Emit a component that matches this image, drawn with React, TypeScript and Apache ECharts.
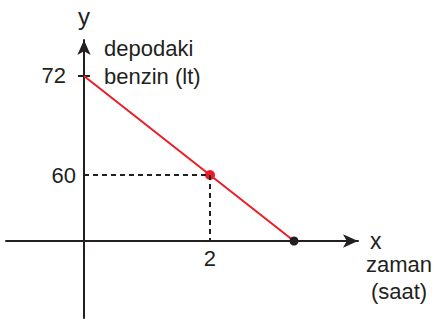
import React, { useEffect, useRef } from "react";
import * as echarts from "echarts";

// Sketch (not to scale): positions are the diagram's grid steps
const lineX = [0, 3, 5];
const lineY = [5, 2, 0];
const xTickValues = [3];
const xTickLabels = ["2"];
const yTickValuesMain = [2];
const yTickLabelsMain = ["60"];
const yTickValuesTop = [5];
const yTickLabelsTop = ["72"];
const yAxisName = "y";
const xAxisName = "x";
const yQuantity = "depodaki\nbenzin (lt)";
const xQuantity = "zaman\n(saat)";

const INK = "#231f20";
const RED = "#ed1c24";
const FONT = "Liberation Sans, Arial, sans-serif";

export default function App() {
  const ref = useRef<HTMLDivElement>(null);
  useEffect(() => {
    document.body.style.margin = "0";
    const chart = echarts.init(ref.current!, undefined, { renderer: "svg" });
    const labelFor = (vals: number[], labs: string[]) => (v: number) => {
      const i = vals.indexOf(v);
      return i >= 0 ? labs[i] : "";
    };
    const points = lineX.map((x, i) => [x, lineY[i]]);
    const yBase = {
      type: "value",
      min: -2.3333,
      max: 6.0909,
      position: "left",
      offset: -78,
      splitLine: { show: false },
    };
    chart.setOption({
      animation: false,
      grid: { left: 6, right: 77, top: 40, bottom: 7, containLabel: false, outerBoundsMode: "none" },
      xAxis: {
        type: "value",
        min: -1.857,
        max: 6.524,
        position: "bottom",
        offset: -77,
        splitLine: { show: false },
        axisLine: {
          onZero: false,
          symbol: ["none", "arrow"],
          symbolSize: [10, 15],
          lineStyle: { color: INK, width: 2 },
        },
        axisTick: { show: false },
        axisLabel: {
          customValues: xTickValues,
          formatter: labelFor(xTickValues, xTickLabels),
          color: INK,
          fontSize: 22,
          fontFamily: FONT,
          margin: 6,
        },
        name: xAxisName,
        nameLocation: "end",
        nameGap: 12,
        nameTextStyle: { color: INK, fontSize: 23, fontFamily: FONT, verticalAlign: "middle", lineHeight: 16 },
      },
      yAxis: [
        {
          ...yBase,
          axisLine: {
            onZero: false,
            symbol: ["none", "arrow"],
            symbolSize: [10, 15],
            lineStyle: { color: INK, width: 2 },
          },
          axisTick: {
            show: true,
            customValues: yTickValuesTop,
            length: 6,
            lineStyle: { color: INK, width: 2 },
          },
          axisLabel: {
            customValues: yTickValuesMain,
            formatter: labelFor(yTickValuesMain, yTickLabelsMain),
            color: INK,
            fontSize: 22,
            fontFamily: FONT,
            margin: 8,
          },
          name: yAxisName,
          nameLocation: "end",
          nameGap: 12,
          nameTextStyle: { color: INK, fontSize: 24, fontFamily: FONT, align: "center" },
        },
        {
          ...yBase,
          axisLine: { show: false, onZero: false },
          axisTick: {
            show: true,
            inside: true,
            customValues: yTickValuesTop,
            length: 6,
            lineStyle: { color: INK, width: 2 },
          },
          axisLabel: {
            customValues: yTickValuesTop,
            formatter: labelFor(yTickValuesTop, yTickLabelsTop),
            color: INK,
            fontSize: 22,
            fontFamily: FONT,
            margin: 18,
          },
        },
      ],
      series: [
        {
          type: "line",
          data: points.map((p, i) => ({
            value: p,
            symbol: i === 0 ? "none" : "circle",
            symbolSize: i === 1 ? 10 : 9,
            itemStyle: { color: i === points.length - 1 ? INK : RED },
          })),
          lineStyle: { color: RED, width: 2 },
          markLine: {
            silent: true,
            symbol: "none",
            label: { show: false },
            lineStyle: { color: INK, width: 2, type: [5, 4] },
            data: [
              [{ coord: [0, lineY[1]] }, { coord: [lineX[1], lineY[1]] }],
              [{ coord: [lineX[1], lineY[1]] }, { coord: [lineX[1], 0] }],
            ],
          },
          z: 3,
        },
      ],
      graphic: [
        {
          type: "text",
          left: 104,
          top: 34,
          style: { text: yQuantity, font: `22px ${FONT}`, lineHeight: 28, fill: INK },
        },
        {
          type: "text",
          x: 399,
          y: 251,
          style: { text: xQuantity, font: `22px ${FONT}`, lineHeight: 27, fill: INK, textAlign: "center" },
        },
      ],
    });
    return () => chart.dispose();
  }, []);
  return <div ref={ref} style={{ width: 435, height: 325, position: "absolute", left: 0, top: 0 }} />;
}
